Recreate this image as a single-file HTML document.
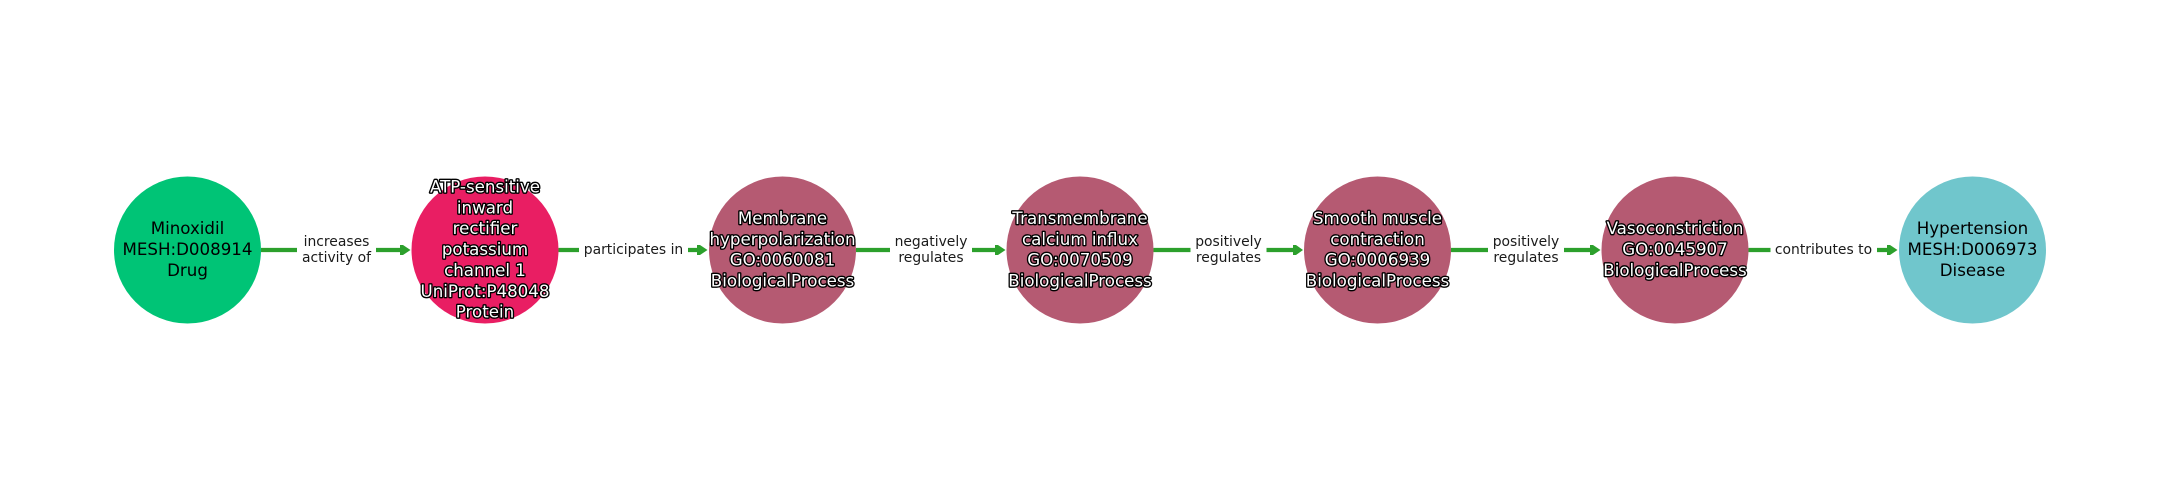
<!DOCTYPE html>
<html>
<head>
<meta charset="utf-8">
<style>
html,body{margin:0;padding:0;background:#fff;width:2160px;height:500px;overflow:hidden}
svg{display:block}
text{font-family:"DejaVu Sans",sans-serif;text-anchor:middle}
.n{font-size:16.67px;fill:#000}
.h{font-size:16.67px;fill:#fff;stroke:#000;stroke-width:2.7px;paint-order:stroke;stroke-linejoin:round}
.e{font-size:13.9px;fill:#1a1a1a}
.l{stroke:#2ca02c;stroke-width:4.2;fill:none}
.a{fill:#2ca02c}
</style>
</head>
<body>
<svg width="2160" height="500" viewBox="0 0 2160 500" xmlns="http://www.w3.org/2000/svg">
<rect width="2160" height="500" fill="#fff"/>

<!-- edges -->
<path class="l" d="M261 250H297M376 250H402"/>
<path class="a" d="M400 245L403 245L410.5 250L403 255L400 255Z"/>
<path class="l" d="M558.5 250H579M688 250H699"/>
<path class="a" d="M697 245L700 245L707.5 250L700 255L697 255Z"/>
<path class="l" d="M856 250H890M972 250H997"/>
<path class="a" d="M995 245L998 245L1005.5 250L998 255L995 255Z"/>
<path class="l" d="M1153.5 250H1190.5M1266.5 250H1295"/>
<path class="a" d="M1293 245L1296 245L1303 250L1296 255L1293 255Z"/>
<path class="l" d="M1451 250H1488M1564 250H1592"/>
<path class="a" d="M1590 245L1593 245L1600.5 250L1593 255L1590 255Z"/>
<path class="l" d="M1748.5 250H1770.5M1877 250H1889"/>
<path class="a" d="M1887 245L1890 245L1897.5 250L1890 255L1887 255Z"/>

<!-- nodes -->
<circle cx="187.5" cy="250" r="73.5" fill="#00c476"/>
<circle cx="485" cy="250" r="73.5" fill="#e91e63"/>
<circle cx="782.5" cy="250" r="73.5" fill="#b55a72"/>
<circle cx="1080" cy="250" r="73.5" fill="#b55a72"/>
<circle cx="1377.5" cy="250" r="73.5" fill="#b55a72"/>
<circle cx="1675" cy="250" r="73.5" fill="#b55a72"/>
<circle cx="1972.5" cy="250" r="73.5" fill="#70c6cc"/>

<!-- node labels -->
<text class="n" x="187.5" y="234">Minoxidil</text>
<text class="n" x="187.5" y="255">MESH:D008914</text>
<text class="n" x="187.5" y="276">Drug</text>

<text class="h" x="485" y="192.5">ATP-sensitive</text>
<text class="h" x="485" y="213.5">inward</text>
<text class="h" x="485" y="234">rectifier</text>
<text class="h" x="485" y="255">potassium</text>
<text class="h" x="485" y="276">channel 1</text>
<text class="h" x="485" y="297">UniProt:P48048</text>
<text class="h" x="485" y="317.5">Protein</text>

<text class="h" x="782.5" y="224">Membrane</text>
<text class="h" x="782.5" y="245">hyperpolarization</text>
<text class="h" x="782.5" y="265.5">GO:0060081</text>
<text class="h" x="782.5" y="286.5">BiologicalProcess</text>

<text class="h" x="1080" y="224">Transmembrane</text>
<text class="h" x="1080" y="245">calcium influx</text>
<text class="h" x="1080" y="265.5">GO:0070509</text>
<text class="h" x="1080" y="286.5">BiologicalProcess</text>

<text class="h" x="1377.5" y="224">Smooth muscle</text>
<text class="h" x="1377.5" y="245">contraction</text>
<text class="h" x="1377.5" y="265.5">GO:0006939</text>
<text class="h" x="1377.5" y="286.5">BiologicalProcess</text>

<text class="h" x="1675" y="234">Vasoconstriction</text>
<text class="h" x="1675" y="255">GO:0045907</text>
<text class="h" x="1675" y="276">BiologicalProcess</text>

<text class="n" x="1972.5" y="234">Hypertension</text>
<text class="n" x="1972.5" y="255">MESH:D006973</text>
<text class="n" x="1972.5" y="276">Disease</text>

<!-- edge labels -->
<text class="e" x="336.5" y="246">increases</text>
<text class="e" x="336.5" y="262">activity of</text>
<text class="e" x="633.5" y="254">participates in</text>
<text class="e" x="931" y="246">negatively</text>
<text class="e" x="931" y="262">regulates</text>
<text class="e" x="1228.5" y="246">positively</text>
<text class="e" x="1228.5" y="262">regulates</text>
<text class="e" x="1526" y="246">positively</text>
<text class="e" x="1526" y="262">regulates</text>
<text class="e" x="1823.5" y="254">contributes to</text>
</svg>
</body>
</html>
